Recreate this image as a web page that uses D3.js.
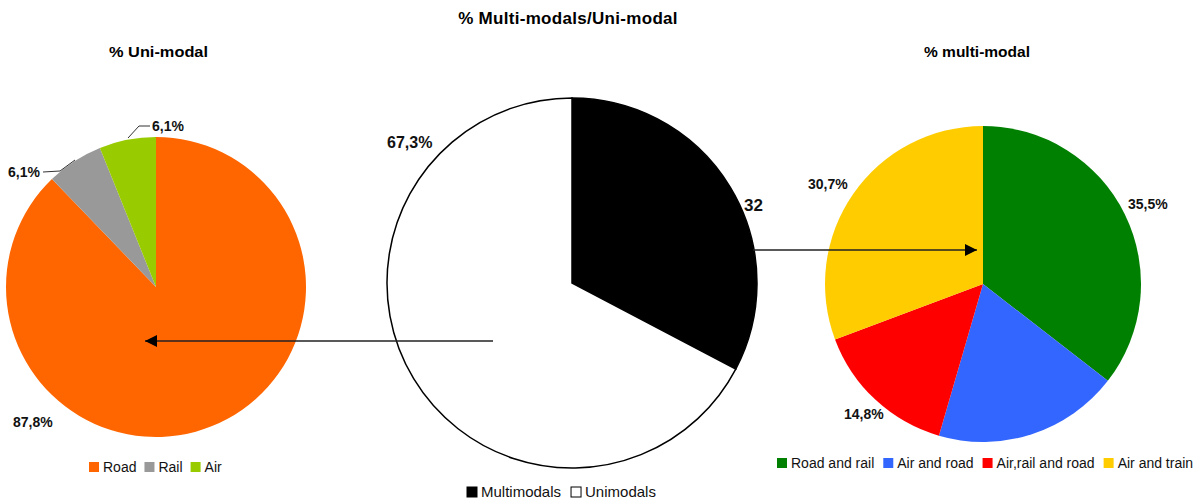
<!DOCTYPE html>
<html><head><meta charset="utf-8">
<script src="https://cdn.jsdelivr.net/npm/d3@7/dist/d3.min.js"></script>
<style>body{margin:0;background:#fff}svg{display:block}text{font-family:"Liberation Sans",Arial,sans-serif}</style>
</head><body><svg id="c" width="1199" height="500"></svg>
<script>
// Data
const uniCategories = ["Road", "Rail", "Air"];
const uniValues = [87.8, 6.1, 6.1];
const uniLabels = ["87,8%", "6,1%", "6,1%"];
const uniColors = ["#ff6600", "#999999", "#99cc00"];

const mainCategories = ["Multimodals", "Unimodals"];
const mainValues = [32.7, 67.3];
const mainLabels = ["32", "67,3%"];
const mainColors = ["#000000", "#ffffff"];

const multiCategories = ["Road and rail", "Air and road", "Air,rail and road", "Air and train"];
const multiValues = [35.5, 19.0, 14.8, 30.7];
const multiLabels = ["35,5%", "", "14,8%", "30,7%"];
const multiColors = ["#008000", "#3366ff", "#ff0000", "#ffcc00"];

const svg = d3.select("#c");
const defs = svg.append("defs");
defs.append("marker").attr("id","ah").attr("viewBox","0 0 10 10").attr("refX",10).attr("refY",5)
  .attr("markerWidth",16).attr("markerHeight",12).attr("markerUnits","userSpaceOnUse").attr("orient","auto")
  .append("path").attr("d","M0,0L10,5L0,10Z").attr("fill","#000");

function drawPie(cx, cy, r, values, colors, stroke){
  const pie = d3.pie().sort(null).value(d=>d);
  const arc = d3.arc().innerRadius(0).outerRadius(r);
  const g = svg.append("g").attr("transform",`translate(${cx},${cy})`);
  const arcs = pie(values);
  g.selectAll("path").data(arcs).join("path").attr("d",arc)
    .attr("fill",(d,i)=>colors[i]).attr("stroke",stroke?"#000":"none").attr("stroke-width",stroke?1.5:0);
  return {g, arcs, r, cx, cy};
}

function label(x, y, t, size, anchor){
  svg.append("text").attr("x",x).attr("y",y).attr("font-size",size).attr("font-weight","bold")
    .attr("text-anchor",anchor||"start").attr("fill","#111").text(t);
}

// Titles
svg.append("text").attr("x",568).attr("y",24).attr("text-anchor","middle").attr("font-size",17)
  .attr("font-weight","bold").attr("letter-spacing",0.3).text("% Multi-modals/Uni-modal");
svg.append("text").attr("x",109).attr("y",57).attr("font-size",14)
  .attr("font-weight","bold").attr("textLength",99).attr("lengthAdjust","spacingAndGlyphs").text("% Uni-modal");
svg.append("text").attr("x",924).attr("y",57).attr("font-size",14)
  .attr("font-weight","bold").attr("textLength",106).attr("lengthAdjust","spacingAndGlyphs").text("% multi-modal");

// Pies
const L = drawPie(156, 287, 150, uniValues, uniColors, false);
const C = drawPie(572, 283, 185, mainValues, mainColors, true);
const R = drawPie(983, 284, 158, multiValues, multiColors, false);

// Leader lines left pie
svg.append("path").attr("d","M128,138 L139,126 L150,126").attr("fill","none").attr("stroke","#333").attr("stroke-width",1);
svg.append("path").attr("d","M43,172 L60,171 L75,160").attr("fill","none").attr("stroke","#333").attr("stroke-width",1);

// Value labels
label(152, 131, uniLabels[2], 14);
label(8, 177, uniLabels[1], 14);
label(13, 427, uniLabels[0], 14);
label(387, 148, mainLabels[1], 16);
label(744, 211, mainLabels[0], 17);
label(808, 189, multiLabels[3], 14);
label(1128, 209, multiLabels[0], 14);
label(844, 419, multiLabels[2], 14);

// Arrows
svg.append("line").attr("x1",493).attr("y1",341).attr("x2",145).attr("y2",341)
  .attr("stroke","#222").attr("stroke-width",1.5).attr("marker-end","url(#ah)");
svg.append("line").attr("x1",753).attr("y1",250).attr("x2",977).attr("y2",250)
  .attr("stroke","#222").attr("stroke-width",1.5).attr("marker-end","url(#ah)");

// Legends
function legend(x, y, cats, colors, size, gap, sq, outline){
  let cx = x;
  cats.forEach((c,i)=>{
    svg.append("rect").attr("x",cx).attr("y",y-sq+1).attr("width",sq).attr("height",sq)
      .attr("fill",colors[i]).attr("stroke",outline?"#000":"none").attr("stroke-width",outline?1:0);
    const t = svg.append("text").attr("x",cx+sq+4).attr("y",y+1).attr("font-size",size).attr("fill","#111").text(c);
    cx += sq + 4 + t.node().getComputedTextLength() + gap;
  });
}
legend(89, 471, uniCategories, uniColors, 14, 8, 10, false);
legend(467, 496, mainCategories, mainColors, 15, 10, 10, true);
legend(777, 467, multiCategories, multiColors, 14, 9, 10, false);
</script></body></html>
